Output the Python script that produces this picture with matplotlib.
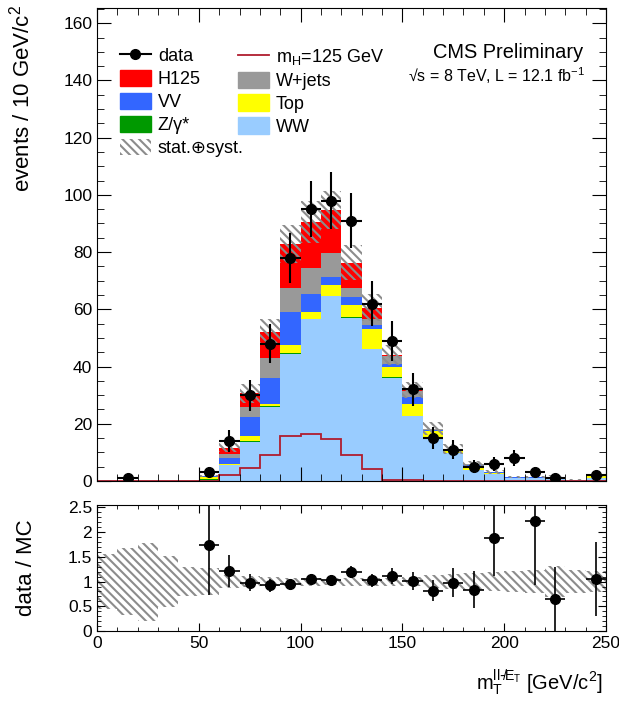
import numpy as np
import matplotlib

matplotlib.use("Agg")
import matplotlib.pyplot as plt
from matplotlib.lines import Line2D
from matplotlib.patches import Patch
from matplotlib.ticker import MultipleLocator

plt.rcParams["font.family"] = ["Liberation Sans", "DejaVu Sans"]
plt.rcParams["mathtext.default"] = "regular"
plt.rcParams["hatch.linewidth"] = 1.5

# 25 bins of 10 GeV in mT(ll-MET)
edges = np.arange(0, 260, 10)
data = [0, 1, 0, 0, 0, 3, 14, 30, 48, 78, 95, 98, 91, 62, 49, 32, 15, 11, 5, 6, 8, 3, 1, 0, 2]

# stacked backgrounds, bottom to top
ww = [0, 0, 0, 0, 0, 0.3, 5.5, 13.7, 26.0, 44.5, 56.5, 64.6, 57.1, 46.2, 36.1, 22.7, 15.1, 9.7, 4.0, 2.3, 0.9, 0.9, 1.0, 0.2, 1.0]
zg = [0, 0, 0, 0, 0, 0.3, 0.1, 0.3, 0.2, 0.1, 0.1, 0.1, 0.1, 0.1, 0.1, 0.1, 0.05, 0, 0, 0, 0, 0, 0, 0, 0]
top = [0, 0, 0, 0, 0, 0.9, 0.4, 1.6, 0.8, 3.1, 2.6, 3.8, 4.3, 6.8, 3.7, 4.2, 2.4, 1.2, 1.4, 0.6, 0.3, 0.3, 0.4, 0.3, 0.7]
vv = [0, 0, 0, 0, 0, 0.1, 1.9, 6.8, 8.9, 11.5, 6.0, 2.8, 2.8, 1.4, 0.9, 2.3, 0.3, 0.2, 0.2, 0.1, 0.1, 0.1, 0.1, 0, 0.1]
wjets = [0, 0, 0, 0, 0, 0.1, 1.6, 3.5, 7.0, 8.1, 9.1, 8.5, 3.0, 2.0, 2.9, 2.2, 0.4, 0.1, 0.3, 0.15, 0.1, 0.05, 0.05, 0, 0.1]
h125 = [0, 0, 0, 0, 0, 0.03, 2.1, 4.7, 9.2, 15.6, 16.3, 14.8, 9.0, 4.1, 0.3, 0.3, 0.1, 0.05, 0.1, 0.05, 0, 0, 0, 0, 0]

# relative stat+syst uncertainty on the total prediction
rel_unc = [0.55, 0.68, 0.79, 0.52, 0.30, 0.27, 0.14, 0.11, 0.09, 0.08, 0.08, 0.07, 0.08, 0.08, 0.08,
           0.09, 0.13, 0.15, 0.18, 0.20, 0.22, 0.24, 0.32, 0.24, 0.22]

stack = [
    ("WW", ww, "#99ccff"),
    ("Z/γ*", zg, "#009900"),
    ("Top", top, "#ffff00"),
    ("VV", vv, "#3366ff"),
    ("W+jets", wjets, "#999999"),
    ("H125", h125, "#ff0000"),
]

centers = 0.5 * (edges[:-1] + edges[1:])
data = np.array(data, dtype=float)
rel_unc = np.array(rel_unc)
hatch_col = "#8c8c8c"
hatch = "\\\\\\\\"

fig = plt.figure(figsize=(6.19, 7.05), dpi=100)
ax = fig.add_axes([0.1567, 0.3177, 0.8223, 0.6709])
rax = fig.add_axes([0.1567, 0.1050, 0.8223, 0.1787])

# stacked histogram
base = np.zeros(len(centers))
colors = {}
for name, vals, col in stack:
    vals = np.array(vals, dtype=float)
    ax.stairs(base + vals, edges, baseline=base, fill=True, color=col, lw=0)
    base = base + vals
    colors[name] = col
total = base

# uncertainty band on top of the stack
ax.bar(centers, 2 * rel_unc * total, bottom=total * (1 - rel_unc), width=10,
       fill=False, hatch=hatch, edgecolor=hatch_col, lw=0)

# signal alone as a line
ax.stairs(h125, edges, color="#b01c2e", lw=1.3)

sel = data > 0
ax.errorbar(centers[sel], data[sel], xerr=5, yerr=np.sqrt(data[sel]), fmt="o",
            color="black", ms=7, elinewidth=1.5, capsize=0)

ax.set_xlim(0, 250)
ax.set_ylim(0, 165.3)
ax.xaxis.set_major_locator(MultipleLocator(50))
ax.xaxis.set_minor_locator(MultipleLocator(10))
ax.yaxis.set_major_locator(MultipleLocator(20))
ax.yaxis.set_minor_locator(MultipleLocator(5))
ax.tick_params(which="both", direction="in", top=True, right=True, labelsize=12.5, labelbottom=False)
ax.tick_params(which="major", length=10)
ax.tick_params(which="minor", length=5)
ax.set_ylabel("events / 10 GeV/c$^2$", fontsize=16, loc="top")
ax.yaxis.set_label_coords(-0.122, 1.006)

ax.text(0.955, 0.907, "CMS Preliminary", transform=ax.transAxes, ha="right", va="center", fontsize=14.4)
ax.text(0.959, 0.858, "√s = 8 TeV, L = 12.1 fb$^{-1}$", transform=ax.transAxes, ha="right", va="center",
        fontsize=11.5)

# legend, two columns placed separately (ROOT style fixed columns)
h_data = Line2D([], [], color="black", marker="o", ms=7, lw=1.5)
h_sig = Line2D([], [], color="#b01c2e", lw=1.3)
h_unc = Patch(facecolor="none", edgecolor=hatch_col, hatch=hatch, lw=0)
col1 = [(h_data, "data"), (Patch(color=colors["H125"]), "H125"), (Patch(color=colors["VV"]), "VV"),
        (Patch(color=colors["Z/γ*"]), "Z/γ*"), (h_unc, "stat.⊕syst.")]
col2 = [(h_sig, "m$_H$=125 GeV"), (Patch(color=colors["W+jets"]), "W+jets"),
        (Patch(color=colors["Top"]), "Top"), (Patch(color=colors["WW"]), "WW")]
leg_kw = dict(loc="upper left", frameon=False, fontsize=13, borderpad=0, borderaxespad=0,
              handlelength=1.7, handleheight=1.0, handletextpad=0.4, labelspacing=0.26)
leg1 = ax.legend([h for h, _ in col1], [t for _, t in col1], bbox_to_anchor=(0.045, 0.918), **leg_kw)
ax.add_artist(leg1)
ax.legend([h for h, _ in col2], [t for _, t in col2], bbox_to_anchor=(0.277, 0.918), **leg_kw)

# ratio panel
mc_ok = (total > 0) & sel
ratio = data[mc_ok] / total[mc_ok]
ratio_err = np.sqrt(data[mc_ok]) / total[mc_ok]
rax.bar(centers, 2 * rel_unc, bottom=1 - rel_unc, width=10, fill=False, hatch=hatch,
        edgecolor=hatch_col, lw=0)
rax.errorbar(centers[mc_ok], ratio, xerr=5, yerr=ratio_err, fmt="o", color="black", ms=7,
             elinewidth=1.2, capsize=0)
rax.set_xlim(0, 250)
rax.set_ylim(0, 2.55)
rax.xaxis.set_major_locator(MultipleLocator(50))
rax.xaxis.set_minor_locator(MultipleLocator(10))
rax.yaxis.set_major_locator(MultipleLocator(0.5))
rax.yaxis.set_minor_locator(MultipleLocator(0.1))
rax.yaxis.set_major_formatter(matplotlib.ticker.FormatStrFormatter("%g"))
rax.tick_params(which="both", direction="in", top=True, right=True, labelsize=12.5)
rax.tick_params(which="major", length=6)
rax.tick_params(which="minor", length=3)
rax.set_ylabel("data / MC", fontsize=16)
rax.yaxis.set_label_coords(-0.118, 0.5)
rax.set_xlabel(r"m$_T^{ll\text{-}\not E_T}$ [GeV/c$^2$]", fontsize=14.5, loc="right")
rax.xaxis.label.set_va("center")
rax.xaxis.set_label_coords(0.994, -0.406)

fig.savefig("out.png", dpi=100)
